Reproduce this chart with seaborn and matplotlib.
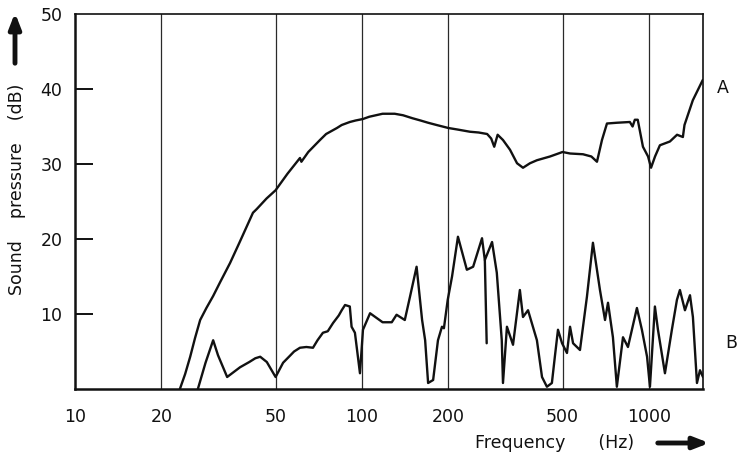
import numpy as np
import pandas as pd
import matplotlib
matplotlib.use('Agg')
import matplotlib.pyplot as plt
import seaborn as sns

# curve A (Hz, dB)
freq_a = [23.2, 24.2, 25.2, 26.2, 27.3, 28.7, 30.3, 32, 34.7, 37.5, 41.7, 43, 46.5, 50,
          55, 60.8, 61.5, 65, 71.4, 75, 81.8, 85, 90.7, 95, 100.8, 106,
          118, 130, 139, 150, 160, 170, 182, 200, 215, 238, 255, 273, 282, 289, 297, 310,
          328, 347, 364, 385, 407, 452, 500, 531, 589, 630, 659, 686, 714, 773, 858, 877,
          893, 914, 953, 993, 1017, 1050, 1092, 1183, 1253, 1313, 1330, 1422, 1540]
spl_a = [0, 2.0, 4.3, 6.8, 9.2, 10.8, 12.4, 14.2, 16.8, 19.6, 23.5, 24.0, 25.4, 26.5,
         28.7, 30.8, 30.3, 31.6, 33.2, 34.0, 34.8, 35.2, 35.6, 35.8, 36.0, 36.3,
         36.7, 36.7, 36.5, 36.1, 35.8, 35.5, 35.2, 34.8, 34.6, 34.3, 34.2, 34.0, 33.4, 32.3, 33.9, 33.2,
         31.9, 30.1, 29.5, 30.1, 30.5, 31.0, 31.6, 31.4, 31.3, 31.0, 30.3, 33.2, 35.4, 35.5, 35.6, 35.0,
         35.9, 35.9, 32.3, 31.0, 29.5, 31.0, 32.5, 33.0, 33.9, 33.6, 35.2, 38.5, 41.2]

# curve B (Hz, dB)
freq_b = [26.8, 28.5, 30.3, 31.5, 33.9, 37.6, 40.5, 42.5, 44.2, 46.6, 50, 53.1, 56, 58,
          60.8, 64, 67.5, 70, 73.1, 76, 79.3, 83, 85, 87.3, 90.7, 92, 94.5, 98.4, 100.8,
          106.7, 118, 127, 132, 141, 147, 155,
          162, 166, 170, 177, 184, 190, 193, 199, 206, 216, 232, 244, 262, 268, 284, 295,
          307, 310, 320, 336, 355, 364, 379, 407, 424, 441, 459, 470, 482, 498, 518, 531,
          544, 575, 608, 638, 675, 703, 720, 749, 773, 812, 845, 908, 945, 985, 1008,
          1049, 1075, 1137, 1202, 1252, 1282, 1335, 1390, 1423, 1470, 1506, 1543]
spl_b = [0, 3.5, 6.5, 4.5, 1.6, 2.9, 3.6, 4.1, 4.3, 3.6, 1.6, 3.5, 4.4, 5.0,
         5.5, 5.6, 5.5, 6.5, 7.5, 7.7, 8.8, 9.8, 10.5, 11.2, 11.0, 8.3, 7.5, 2.1, 7.9,
         10.1, 8.9, 8.9, 9.9, 9.2, 12.3, 16.3,
         9.2, 6.5, 0.8, 1.2, 6.5, 8.3, 8.1, 11.9, 15.0, 20.3, 15.9, 16.3, 20.1, 17.2, 19.6, 15.5,
         6.5, 0.8, 8.3, 5.9, 13.2, 9.6, 10.5, 6.5, 1.6, 0.3, 0.8, 4.3, 7.9, 6.1, 4.8, 8.3,
         6.1, 5.2, 12.3, 19.5, 13.2, 9.2, 11.5, 6.9, 0.3, 6.9, 5.6, 10.8, 7.9, 4.3, 0.3,
         11.0, 7.9, 2.1, 7.9, 11.9, 13.2, 10.5, 12.5, 9.6, 0.8, 2.5, 1.6]

# loose branch of curve B near 270 Hz
freq_b2 = [268, 272]
spl_b2 = [17.2, 6.1]

grid_freqs = [20, 50, 100, 200, 500, 1000]
xtick_vals = [10, 20, 50, 100, 200, 500, 1000]
ytick_vals = [10, 20, 30, 40, 50]

sns.set_style('white')
plt.rcParams['font.family'] = ['DejaVu Sans']
ink = '#111111'
fs = 12.5

fig = plt.figure(figsize=(7.38, 4.62), dpi=100)
ax = fig.add_axes([75 / 738, 1 - 389 / 462, 628 / 738, 375 / 462])

for f in grid_freqs:
    ax.axvline(f, color='#2a2a2a', lw=0.9, zorder=1)

df_a = pd.DataFrame({'f': freq_a, 'spl': spl_a})
df_b = pd.DataFrame({'f': freq_b, 'spl': spl_b})
df_b2 = pd.DataFrame({'f': freq_b2, 'spl': spl_b2})
for d in (df_a, df_b, df_b2):
    sns.lineplot(data=d, x='f', y='spl', ax=ax, color=ink, lw=1.7,
                 estimator=None, sort=False, zorder=3)

ax.set_xscale('log')
ax.set_xlim(10, 1543)
ax.set_ylim(0, 50)
ax.set_xticks(xtick_vals)
ax.set_xticklabels([str(v) for v in xtick_vals])
ax.minorticks_off()
ax.set_yticks(ytick_vals)
ax.tick_params(axis='x', bottom=True, length=0, pad=14, labelsize=fs, labelcolor=ink)
ax.tick_params(axis='y', left=True, direction='in', length=13, width=1.4, pad=9,
               labelsize=fs, labelcolor=ink, color=ink)
# no tick mark at the top edge, only the label
ax.yaxis.get_major_ticks()[-1].tick1line.set_visible(False)
ax.set_xlabel('')
ax.set_ylabel('')

for side in ['left', 'bottom']:
    ax.spines[side].set_linewidth(1.8)
for side in ['top', 'right']:
    ax.spines[side].set_linewidth(1.2)
for s in ax.spines.values():
    s.set_color(ink)
    s.set_visible(True)

# curve labels
fig.text(723 / 738, 1 - 88 / 462, 'A', fontsize=fs, color=ink, ha='center', va='center')
fig.text(731 / 738, 1 - 343 / 462, 'B', fontsize=fs, color=ink, ha='center', va='center')

# axis titles with arrows
fig.text(17 / 738, 1 - 189 / 462, 'Sound    pressure    (dB)', rotation=90,
         fontsize=fs, color=ink, ha='center', va='center')
fig.text(555 / 738, 1 - 443 / 462, 'Frequency      (Hz)', fontsize=fs, color=ink,
         ha='center', va='center')
ax.annotate('', xy=(15, 462 - 10), xytext=(15, 462 - 66), xycoords='figure pixels',
            textcoords='figure pixels',
            arrowprops=dict(arrowstyle='-|>,head_width=0.35,head_length=0.9',
                            lw=3.5, color=ink))
ax.annotate('', xy=(712, 462 - 443), xytext=(655, 462 - 443), xycoords='figure pixels',
            textcoords='figure pixels',
            arrowprops=dict(arrowstyle='-|>,head_width=0.35,head_length=0.9',
                            lw=3.5, color=ink))

fig.savefig('out.png', dpi=100)
